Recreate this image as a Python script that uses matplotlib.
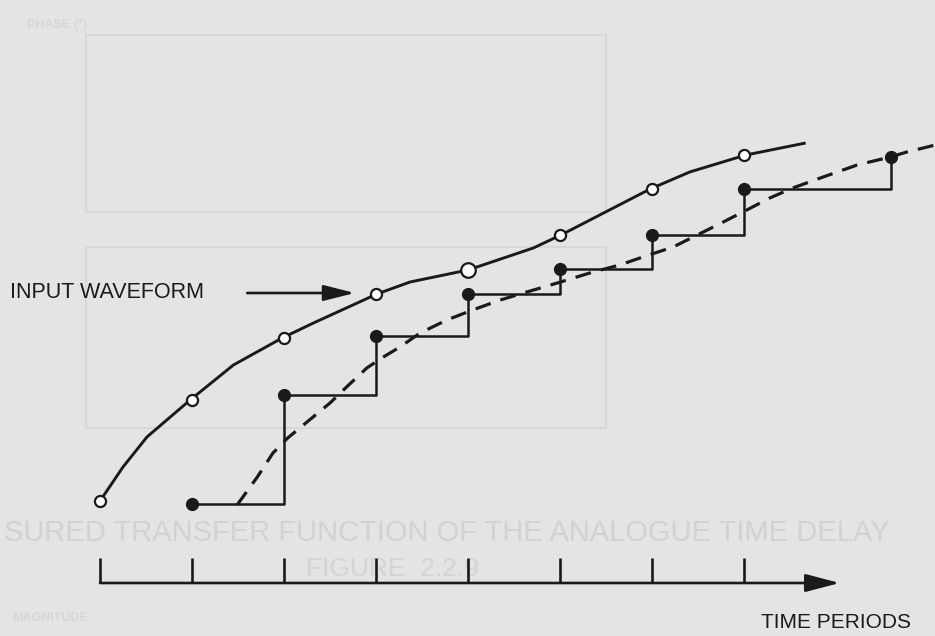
import matplotlib.pyplot as plt
from matplotlib.patches import Rectangle

# time axis: one tick per sampling period
periods = [0, 1, 2, 3, 4, 5, 6, 7]

# input waveform, sampled at each period (open circles)
input_samples = [0.82, 1.83, 2.45, 2.89, 3.13, 3.48, 3.94, 4.28]

# input waveform as drawn (smooth solid curve)
input_x = [0.0, 0.25, 0.51, 0.98, 1.45, 1.98, 2.32, 3.01, 3.37, 4.00,
           4.71, 5.01, 5.98, 6.41, 7.02, 7.67]
input_y = [0.82, 1.16, 1.46, 1.83, 2.18, 2.45, 2.60, 2.89, 3.01, 3.13,
           3.35, 3.48, 3.94, 4.11, 4.28, 4.40]

# sample-and-hold output (filled dots + staircase)
held_t = [1, 2, 3, 4, 5, 6, 7, 8.6]
held_v = [0.79, 1.88, 2.47, 2.89, 3.14, 3.48, 3.94, 4.26]

# delayed / smoothed output (dashed)
out_x = [1.49, 1.71, 1.88, 2.04, 2.25, 2.50, 2.68, 2.90, 3.08, 3.26,
         3.48, 3.77, 4.05, 4.35, 4.64, 4.97, 5.36, 5.65, 5.90, 6.23,
         6.71, 7.03, 7.28, 7.53, 7.86, 8.23, 8.59, 8.77, 9.08]
out_y = [0.78, 1.06, 1.30, 1.45, 1.61, 1.80, 1.96, 2.15, 2.26, 2.36,
         2.50, 2.63, 2.73, 2.83, 2.91, 3.00, 3.11, 3.18, 3.26, 3.36,
         3.58, 3.73, 3.85, 3.95, 4.06, 4.18, 4.26, 4.31, 4.38]

BG = "#e4e4e4"
INK = "#1a1a1a"
GHOST = "#d6d6d6"

fig = plt.figure(figsize=(9.35, 6.36), dpi=100, facecolor=BG)
ax = fig.add_axes([0, 0, 1, 1])
ax.set_facecolor(BG)
ax.set_xlim(-100 / 92, 835 / 92)
ax.set_ylim(-0.53, 5.83)
ax.axis("off")

# faint show-through from the other side of the page
ax.add_patch(Rectangle((-0.15, 3.71), 5.65, 1.77, fill=False, ec=GHOST, lw=1.2, zorder=0))
ax.add_patch(Rectangle((-0.15, 1.55), 5.65, 1.81, fill=False, ec=GHOST, lw=1.2, zorder=0))
ax.text(-0.79, 5.58, "PHASE (°)", color=GHOST, fontsize=9, fontweight="bold",
        ha="left", va="center", family="Liberation Sans", zorder=0)
ax.text(-1.04, 0.50, "SURED TRANSFER FUNCTION OF THE ANALOGUE TIME DELAY",
        color="#d2d2d2", fontsize=21, ha="left", va="center",
        family="Liberation Sans", zorder=0)
ax.text(3.18, 0.14, "FIGURE  2.2.9", color="#d4d4d4", fontsize=19,
        ha="center", va="center", family="Liberation Sans", zorder=0)
ax.text(-0.96, -0.35, "MAGNITUDE", color=GHOST, fontsize=9, fontweight="bold",
        ha="left", va="center", family="Liberation Sans", zorder=0)

# time axis with ticks and arrow
ax.annotate("", xy=(8.04, 0), xytext=(0, 0),
            arrowprops=dict(arrowstyle="-|>,head_length=2.1,head_width=0.55",
                            lw=1.9, color=INK, shrinkA=0, shrinkB=0))
ax.vlines(periods, 0, 0.25, color=INK, lw=1.9)

# input waveform
ax.plot(input_x, input_y, color=INK, lw=2.1, solid_capstyle="butt",
        solid_joinstyle="round", zorder=3)
sizes = [8, 8, 8, 8, 10.5, 8, 8, 8]
for t, v, s in zip(periods, input_samples, sizes):
    ax.plot(t, v, "o", ms=s, mfc="white", mec=INK, mew=1.6, zorder=5)

# dashed output
ax.plot(out_x, out_y, color=INK, lw=2.3, ls=(0, (5, 3.2)), zorder=3)

# sample and hold staircase
ax.step(held_t, held_v, where="post", color=INK, lw=1.8, zorder=4)
ax.plot(held_t, held_v, "o", ms=8.5, color=INK, zorder=5)

# labels
ax.text(-0.98, 2.90, "INPUT WAVEFORM", color=INK, fontsize=15.5,
        ha="left", va="center", family="Liberation Sans")
ax.annotate("", xy=(2.77, 2.90), xytext=(1.60, 2.90),
            arrowprops=dict(arrowstyle="-|>,head_length=1.9,head_width=0.48",
                            lw=1.9, color=INK, shrinkA=0, shrinkB=0))
ax.text(8.81, -0.40, "TIME PERIODS", color=INK, fontsize=15,
        ha="right", va="center", family="Liberation Sans")

fig.savefig("out.png", dpi=100, facecolor=BG)
